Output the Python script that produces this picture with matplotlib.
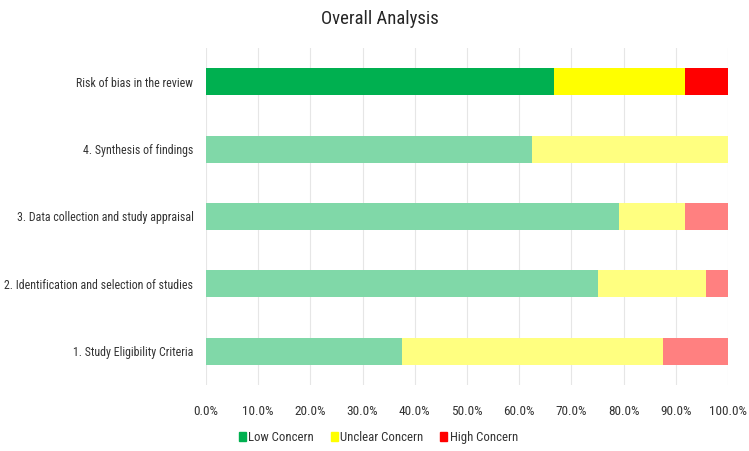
import matplotlib
matplotlib.use("Agg")
import matplotlib.pyplot as plt
from matplotlib.patches import Patch
from matplotlib import font_manager

categories = ["1. Study Eligibility Criteria",
              "2. Identification and selection of studies",
              "3. Data collection and study appraisal",
              "4. Synthesis of findings",
              "Risk of bias in the review"]
low = [37.5, 75.0, 79.2, 62.5, 66.7]
unclear = [50.0, 20.8, 12.5, 37.5, 25.0]
high = [12.5, 4.2, 8.3, 0.0, 8.3]
xticks = [0, 10, 20, 30, 40, 50, 60, 70, 80, 90, 100]

names = {f.name for f in font_manager.fontManager.ttflist}
candidates = ['Roboto Condensed', 'Open Sans Condensed', 'Archivo Narrow',
              'Liberation Sans Narrow', 'Asap Condensed', 'Carlito']
fam = [c for c in candidates if c in names][:1] or ['Liberation Sans']
plt.rcParams['font.family'] = fam + ['DejaVu Sans']

fig = plt.figure(figsize=(7.49, 4.51), dpi=100)
ax = fig.add_axes([0.275, 0.146, 0.697, 0.748])

strong = ["#00B050", "#FFFF00", "#FF0000"]
light = ["#80D8A8", "#FFFF80", "#FF8080"]

for i, cat in enumerate(categories):
    cols = strong if i == len(categories) - 1 else light
    left = 0
    for val, c in zip([low[i], unclear[i], high[i]], cols):
        if val > 0:
            ax.barh(i, val, left=left, height=0.4, color=c, edgecolor='none', zorder=3)
        left += val

ax.set_xlim(0, 100)
ax.set_ylim(-0.5, 4.5)
ax.set_yticks(range(len(categories)))
ax.set_yticklabels(categories, fontsize=8.6, color='#333333')
ax.set_xticks(xticks)
ax.set_xticklabels([f"{v:.1f}%" for v in xticks], fontsize=9.5, color='#333333')
ax.tick_params(length=0, pad=9)
ax.tick_params(axis='x', pad=14)
ax.grid(axis='x', color='#E6E6E6', linewidth=0.8, zorder=0)
for s in ax.spines.values():
    s.set_visible(False)

fig.text(0.507, 0.958, "Overall Analysis", ha='center', va='center', fontsize=13.5, color='#262626')

handles = [Patch(color=strong[0], label="Low Concern"),
           Patch(color=strong[1], label="Unclear Concern"),
           Patch(color=strong[2], label="High Concern")]
fig.legend(handles=handles, loc='center', bbox_to_anchor=(0.505, 0.03), ncol=3,
           frameon=False, fontsize=9.2, handlelength=0.55, handleheight=0.7,
           handletextpad=0.2, columnspacing=1.3, labelcolor='#333333')

fig.savefig("out.png", dpi=100)
